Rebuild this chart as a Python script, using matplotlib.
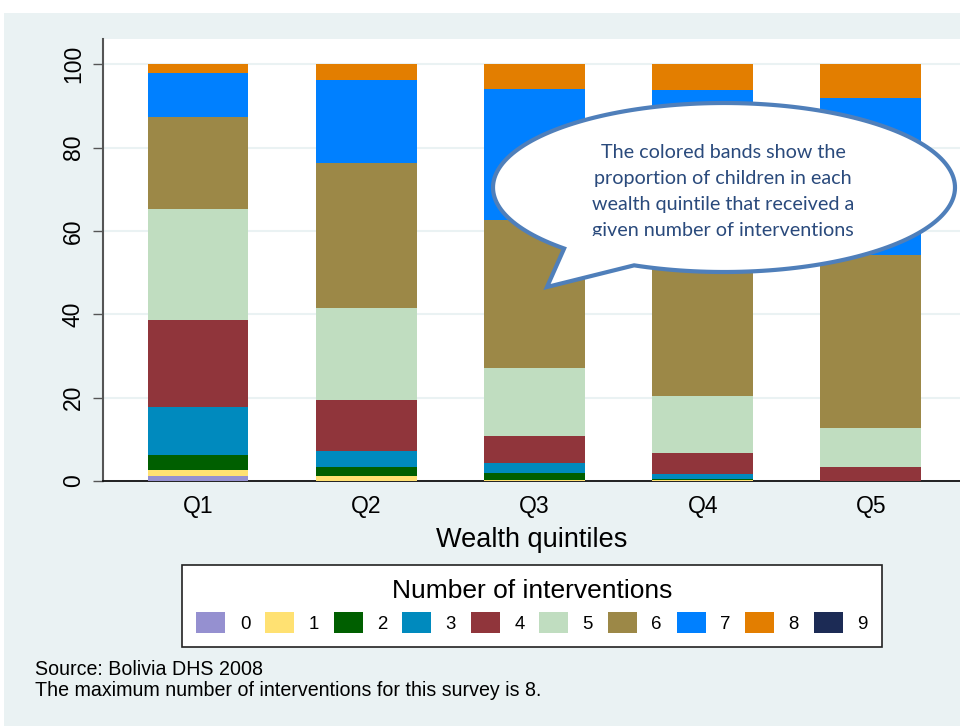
import numpy as np
import matplotlib
matplotlib.use("Agg")
import matplotlib.pyplot as plt
from matplotlib.patches import Rectangle, Polygon
from matplotlib.transforms import Bbox, TransformedBbox

plt.rcParams["font.family"] = ["Liberation Sans", "DejaVu Sans"]

quintiles = ["Q1", "Q2", "Q3", "Q4", "Q5"]
n_interventions = ["0", "1", "2", "3", "4", "5", "6", "7", "8", "9"]
band_colors = ["#9590D0", "#FFE172", "#005F00", "#008ABE", "#90353B",
               "#C0DDC0", "#9C8847", "#0080FF", "#E37E00", "#1C2B55"]

# percent of children per quintile, by number of interventions (0..9)
pct = {
    "Q1": [1.1, 1.5, 3.6, 11.5, 20.9, 26.6, 22.2, 10.5, 2.1, 0.0],
    "Q2": [0.1, 1.1, 2.1, 3.9, 12.2, 22.0, 34.8, 20.1, 3.7, 0.0],
    "Q3": [0.05, 0.15, 1.7, 2.4, 6.6, 16.1, 35.6, 31.4, 6.0, 0.0],
    "Q4": [0.0, 0.2, 0.2, 1.2, 5.2, 13.5, 36.7, 36.8, 6.2, 0.0],
    "Q5": [0.0, 0.0, 0.0, 0.1, 3.2, 9.5, 41.4, 37.7, 8.1, 0.0],
}

callout_lines = ["The colored bands show the",
                 "proportion of children in each",
                 "wealth quintile that received a",
                 "given number of interventions"]
footnote = "Source: Bolivia DHS 2008\nThe maximum number of interventions for this survey is 8."

W, H = 960, 726
bg = "#EAF2F3"


def fx(px):
    return px / W


def fy(py):
    return 1 - py / H


fig = plt.figure(figsize=(9.6, 7.26), dpi=100, facecolor=bg)
# thin white strips on top / left
fig.patches.append(Rectangle((0, fy(13)), 1, 1 - fy(13), transform=fig.transFigure,
                             facecolor="white", edgecolor="none", zorder=-5))
fig.patches.append(Rectangle((0, 0), fx(4), 1, transform=fig.transFigure,
                             facecolor="white", edgecolor="none", zorder=-5))

ax = fig.add_axes([fx(103), fy(481), 1 - fx(103), fy(38.7) - fy(481)])
ax.set_facecolor("white")

x = np.arange(len(quintiles))
data = np.array([pct[q] for q in quintiles])
bottom = np.zeros(len(quintiles))
for k, lab in enumerate(n_interventions):
    ax.bar(x, data[:, k], 0.6, bottom=bottom, color=band_colors[k], label=lab,
           linewidth=0, zorder=3)
    bottom += data[:, k]

ax.set_xlim(-0.565, 4.53)
ax.set_ylim(0, 106.1)
ax.set_yticks([0, 20, 40, 60, 80, 100])
ax.set_xticks(x)
ax.set_xticklabels(quintiles)
ax.tick_params(axis="y", length=7, width=1, color="#555555", labelsize=16.5, pad=6)
for t in ax.get_yticklabels():
    t.set_rotation(90)
    t.set_va("center")
ax.tick_params(axis="x", length=0, labelsize=16.5, pad=10)
ax.grid(axis="y", color=bg, linewidth=1.5, zorder=0)
ax.set_axisbelow(True)
for s in ["top", "right"]:
    ax.spines[s].set_visible(False)
ax.spines["left"].set_color("#555555")
ax.spines["left"].set_linewidth(1.5)
ax.spines["bottom"].set_color("#111111")
ax.spines["bottom"].set_linewidth(1.3)
ax.set_xlabel("Wealth quintiles", fontsize=19.5, labelpad=6.5)

handles, labels = ax.get_legend_handles_labels()
leg = fig.legend(handles, labels, ncol=10, loc="center",
                 bbox_to_anchor=(fx((183 + 881) / 2), fy(606)),
                 title="Number of interventions", title_fontsize=19, fontsize=13.4,
                 handlelength=1.56, handleheight=1.4, handletextpad=0.77,
                 columnspacing=0.80, borderpad=0.75, borderaxespad=0,
                 fancybox=False, frameon=True, framealpha=1)
leg.get_frame().set_edgecolor("#222222")
leg.get_frame().set_linewidth(1.2)

fig.text(fx(35), fy(660), footnote, fontsize=14.1, va="top", ha="left",
         linespacing=1.12)

# speech-bubble callout
cx, cy, a, b = 724, 187.5, 231, 84.5
t = np.deg2rad(np.linspace(112.9, 133.8 - 360, 200))
pts = [(fx(cx + a * np.cos(tt)), fy(cy + b * np.sin(tt))) for tt in t]
pts.append((fx(547), fy(287)))
bubble = Polygon(pts, closed=True, transform=fig.transFigure, facecolor="white",
                 edgecolor="#4F7FBA", linewidth=3, joinstyle="miter", zorder=10)
fig.patches.append(bubble)

clip = TransformedBbox(Bbox([[fx(480), fy(236.5)], [fx(960), fy(100)]]), fig.transFigure)
for i, line in enumerate(callout_lines):
    txt = fig.text(fx(723), fy(153 + 25.7 * i), line, family=["Lato", "DejaVu Sans"],
                   fontsize=14.2, color="#2A4A7C", ha="center", va="center", zorder=11)
    txt.set_clip_box(clip)
    txt.set_clip_on(True)

fig.savefig("out.png", dpi=100, facecolor=fig.get_facecolor())
